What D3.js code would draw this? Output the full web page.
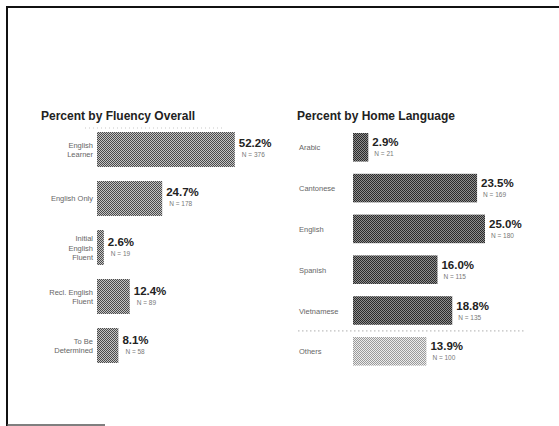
<!DOCTYPE html>
<html><head><meta charset="utf-8">
<script src="https://cdn.jsdelivr.net/npm/d3@7"></script>
<style>body{margin:0;background:#fff}svg{display:block}</style>
</head><body>
<script>
const fluencyCats = [["English","Learner"],["English Only"],["Initial","English","Fluent"],["Recl. English","Fluent"],["To Be","Determined"]];
const fluencyPct = [52.2, 24.7, 2.6, 12.4, 8.1];
const fluencyN = [376, 178, 19, 89, 58];
const langCats = ["Arabic","Cantonese","English","Spanish","Vietnamese","Others"];
const langPct = [2.9, 23.5, 25.0, 16.0, 18.8, 13.9];
const langN = [21, 169, 180, 115, 135, 100];

const W = 559, H = 426;
const svg = d3.select("body").append("svg").attr("width", W).attr("height", H);
const defs = svg.append("defs");
function dither(id, a, b) {
  const p = defs.append("pattern").attr("id", id).attr("patternUnits", "userSpaceOnUse")
    .attr("width", 2).attr("height", 2);
  p.append("rect").attr("width", 2).attr("height", 2).attr("fill", b);
  p.append("rect").attr("width", 1).attr("height", 1).attr("fill", a);
  p.append("rect").attr("x", 1).attr("y", 1).attr("width", 1).attr("height", 1).attr("fill", a);
}
dither("pL", "#4a4a4a", "#c4c4c4");
dither("pR", "#2a2a2a", "#8e8e8e");
dither("pO", "#9a9a9a", "#ececec");

// frame
svg.append("line").attr("x1", 7).attr("x2", 7).attr("y1", 6).attr("y2", 426).attr("stroke", "#111").attr("stroke-width", 2);
svg.append("line").attr("x1", 6).attr("x2", 559).attr("y1", 7).attr("y2", 7).attr("stroke", "#111").attr("stroke-width", 2);
svg.append("line").attr("x1", 7).attr("x2", 105).attr("y1", 425).attr("y2", 425).attr("stroke", "#555").attr("stroke-width", 1.5);

const font = "Liberation Sans, Arial, sans-serif";

// ---- Left panel ----
svg.append("text").attr("x", 41).attr("y", 120).attr("font-family", font).attr("font-weight", "bold")
  .attr("font-size", 12).attr("fill", "#222").text("Percent by Fluency Overall");
svg.append("line").attr("x1", 85).attr("x2", 222).attr("y1", 128).attr("y2", 128)
  .attr("stroke", "#bbb").attr("stroke-width", 0.8).attr("stroke-dasharray", "1,3");

const xL = d3.scaleLinear().domain([0, 60]).range([97, 255.4]);
const yL = d3.scaleBand().domain(d3.range(fluencyPct.length)).range([132, 363]).paddingInner(0.286);

const gL = svg.append("g");
fluencyPct.forEach((v, i) => {
  const y0 = yL(i), bh = yL.bandwidth(), mid = y0 + bh / 2;
  gL.append("rect").attr("x", xL(0)).attr("y", y0).attr("width", xL(v) - xL(0)).attr("height", bh).attr("fill", "url(#pL)");
  const lines = fluencyCats[i];
  const t = gL.append("text").attr("text-anchor", "end").attr("font-family", font).attr("font-size", 7.5).attr("fill", "#666");
  lines.forEach((ln, j) => {
    t.append("tspan").attr("x", xL(0) - 4).attr("y", mid + 3 + (j - (lines.length - 1) / 2) * 9.5).text(ln);
  });
  gL.append("text").attr("x", xL(v) + 4).attr("y", mid - 2).attr("font-family", font).attr("font-weight", "bold")
    .attr("font-size", 11.5).attr("fill", "#222").text(v.toFixed(1) + "%");
  gL.append("text").attr("x", xL(v) + 7).attr("y", mid + 8).attr("font-family", font)
    .attr("font-size", 6.5).attr("fill", "#777").text("N = " + fluencyN[i]);
});

// ---- Right panel ----
svg.append("text").attr("x", 297).attr("y", 120).attr("font-family", font).attr("font-weight", "bold")
  .attr("font-size", 12).attr("fill", "#222").text("Percent by Home Language");

const xR = d3.scaleLinear().domain([0, 30]).range([353, 511.4]);
const yR = d3.scaleBand().domain(d3.range(langPct.length)).range([133, 365.6]).paddingInner(0.3);

const gR = svg.append("g");
langPct.forEach((v, i) => {
  const y0 = yR(i), bh = yR.bandwidth(), mid = y0 + bh / 2;
  const fill = langCats[i] === "Others" ? "url(#pO)" : "url(#pR)";
  gR.append("rect").attr("x", xR(0)).attr("y", y0).attr("width", xR(v) - xR(0)).attr("height", bh).attr("fill", fill);
  gR.append("text").attr("x", 299).attr("y", mid + 3).attr("font-family", font).attr("font-size", 7.5)
    .attr("fill", "#666").text(langCats[i]);
  gR.append("text").attr("x", xR(v) + 4).attr("y", mid - 1).attr("font-family", font).attr("font-weight", "bold")
    .attr("font-size", 11.5).attr("fill", "#222").text(v.toFixed(1) + "%");
  gR.append("text").attr("x", xR(v) + 6).attr("y", mid + 9).attr("font-family", font)
    .attr("font-size", 6.5).attr("fill", "#777").text("N = " + langN[i]);
});
// separator before Others
const sepY = (yR(4) + yR.bandwidth() + yR(5)) / 2;
svg.append("line").attr("x1", 298).attr("x2", 525).attr("y1", sepY).attr("y2", sepY)
  .attr("stroke", "#999").attr("stroke-width", 0.8).attr("stroke-dasharray", "1.5,2.5");
</script>
</body></html>
